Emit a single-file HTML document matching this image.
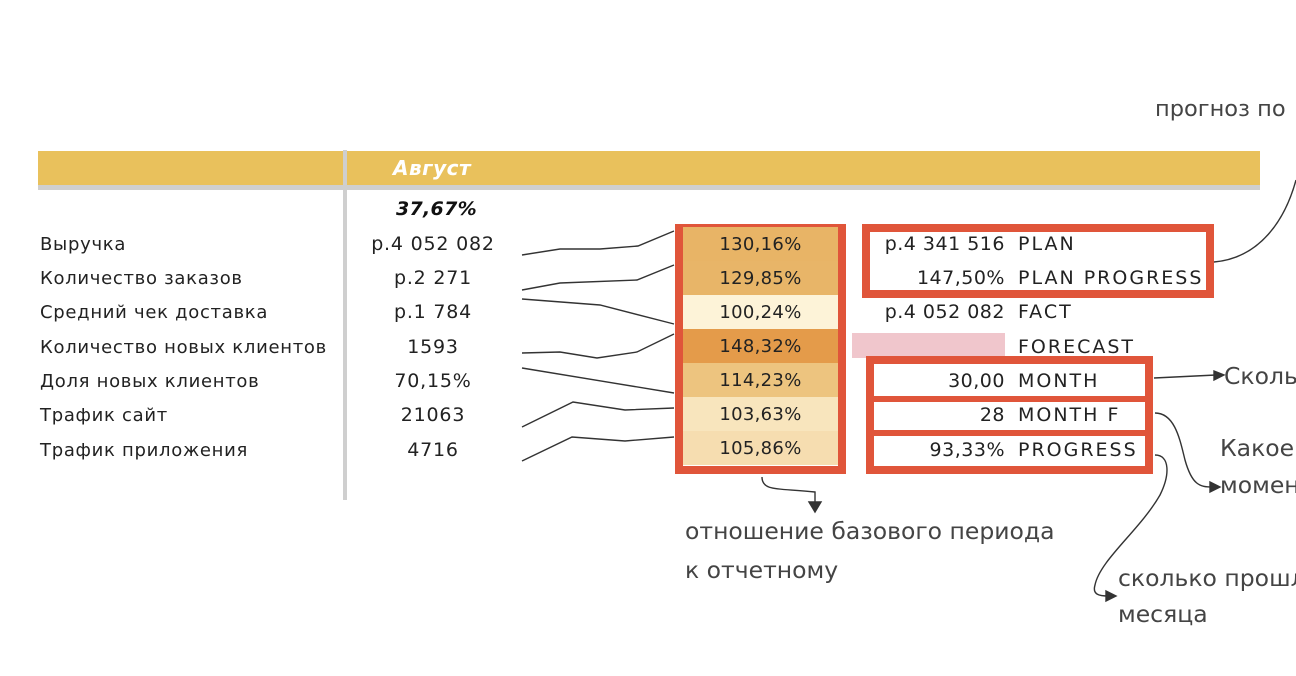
<!DOCTYPE html>
<html><head><meta charset="utf-8"><style>
body{margin:0;width:1296px;height:676px;background:#fff;position:relative;overflow:hidden;font-family:"DejaVu Sans","Liberation Sans",sans-serif;color:#222}
.a{position:absolute;white-space:nowrap}
.lbl{left:40px;font-size:18px;letter-spacing:0.7px}
.val{left:345px;width:176px;text-align:center;font-size:19px;letter-spacing:0.8px}
.cell{left:683px;width:155px;height:34px;line-height:36px;text-align:center;font-size:18px;letter-spacing:0.3px}
.rv{left:850px;width:155px;text-align:right;font-size:19px;letter-spacing:0.5px}
.rl{left:1018px;font-size:19px;letter-spacing:2px}
.ann{font-size:23.5px;color:#444}
</style></head><body>
<div class="a" style="left:38px;top:151px;width:1222px;height:34px;background:#e9c15c"></div>
<div class="a" style="left:38px;top:185px;width:1222px;height:5px;background:#cfcfcf"></div>
<div class="a" style="left:343px;top:150px;width:4px;height:350px;background:#cfcfcf"></div>
<div class="a" style="left:393px;top:156px;font-size:20px;letter-spacing:0.5px;font-weight:bold;font-style:italic;color:#fff">Август</div>
<div class="a" style="left:396px;top:198px;font-size:19px;letter-spacing:0.3px;font-weight:bold;font-style:italic;color:#111">37,67%</div>

<div class="a lbl" style="top:234px">Выручка</div>
<div class="a lbl" style="top:268px">Количество заказов</div>
<div class="a lbl" style="top:302px">Средний чек доставка</div>
<div class="a lbl" style="top:337px">Количество новых клиентов</div>
<div class="a lbl" style="top:371px">Доля новых клиентов</div>
<div class="a lbl" style="top:405px">Трафик сайт</div>
<div class="a lbl" style="top:440px">Трафик приложения</div>

<div class="a val" style="top:233px">р.4 052 082</div>
<div class="a val" style="top:267px">р.2 271</div>
<div class="a val" style="top:301px">р.1 784</div>
<div class="a val" style="top:336px">1593</div>
<div class="a val" style="top:370px">70,15%</div>
<div class="a val" style="top:404px">21063</div>
<div class="a val" style="top:439px">4716</div>

<div class="a" style="left:675px;top:224px;width:155px;height:234px;border:8px solid #e0553a"></div>
<div class="a cell" style="top:227px;background:#e8b466">130,16%</div>
<div class="a cell" style="top:261px;background:#e8b568">129,85%</div>
<div class="a cell" style="top:295px;background:#fdf3d8">100,24%</div>
<div class="a cell" style="top:329px;background:#e49b4a">148,32%</div>
<div class="a cell" style="top:363px;background:#edc47f">114,23%</div>
<div class="a cell" style="top:397px;background:#f8e5bd">103,63%</div>
<div class="a cell" style="top:431px;background:#f6ddb0">105,86%</div>

<div class="a" style="left:862px;top:224px;width:336px;height:58px;border:8px solid #e0553a"></div>
<div class="a" style="left:852px;top:333px;width:153px;height:25px;background:#f0c6cc"></div>
<div class="a" style="left:866px;top:356px;width:271px;height:102px;border:8px solid #e0553a"></div>
<div class="a" style="left:874px;top:396px;width:271px;height:6px;background:#e0553a"></div>
<div class="a" style="left:874px;top:430px;width:271px;height:6px;background:#e0553a"></div>

<div class="a rv" style="top:233px">р.4 341 516</div><div class="a rl" style="top:233px">PLAN</div>
<div class="a rv" style="top:267px">147,50%</div><div class="a rl" style="top:267px">PLAN PROGRESS</div>
<div class="a rv" style="top:301px">р.4 052 082</div><div class="a rl" style="top:301px">FACT</div>
<div class="a rl" style="top:336px">FORECAST</div>
<div class="a rv" style="top:370px">30,00</div><div class="a rl" style="top:370px">MONTH</div>
<div class="a rv" style="top:404px">28</div><div class="a rl" style="top:404px">MONTH F</div>
<div class="a rv" style="top:439px">93,33%</div><div class="a rl" style="top:439px">PROGRESS</div>

<div class="a ann" style="left:1155px;top:96px;font-size:22.5px">прогноз по</div>
<div class="a ann" style="left:685px;top:517px">отношение базового периода</div>
<div class="a ann" style="left:685px;top:556px">к отчетному</div>
<div class="a ann" style="left:1224px;top:362px">Скольк</div>
<div class="a ann" style="left:1220px;top:434px">Какое</div>
<div class="a ann" style="left:1220px;top:471px">момен</div>
<div class="a ann" style="left:1118px;top:564px">сколько прошл</div>
<div class="a ann" style="left:1118px;top:600px">месяца</div>

<svg class="a" style="left:0;top:0" width="1296" height="676" fill="none" stroke="#333" stroke-width="1.4">
<polyline points="522,255 560,249 600,249 638,246 674,231"/>
<polyline points="522,290 560,283 637,280 674,265"/>
<polyline points="522,299 600,305 674,324"/>
<polyline points="522,353 560,352 597,358 637,352 674,334"/>
<polyline points="522,368 674,393"/>
<polyline points="522,427 573,402 625,410 674,408"/>
<polyline points="522,461 572,437 625,441 674,437"/>
<path d="M762,477 C762,492 780,488 815,492 L815,506"/>
<path d="M809,502 L815,512 L821,502 Z" fill="#333"/>
<path d="M1214,262 C1260,258 1285,220 1296,180"/>
<path d="M1154,378 L1216,375"/>
<path d="M1214,371 L1224,375 L1214,380 Z" fill="#333"/>
<path d="M1155,413 C1175,413 1180,440 1185,460 C1192,485 1200,487 1212,487"/>
<path d="M1210,482 L1220,487 L1210,492 Z" fill="#333"/>
<path d="M1155,455 C1170,455 1170,475 1160,495 C1140,530 1100,560 1095,585 C1092,595 1100,596 1108,596"/>
<path d="M1106,591 L1116,596 L1106,601 Z" fill="#333"/>
</svg>
</body></html>
